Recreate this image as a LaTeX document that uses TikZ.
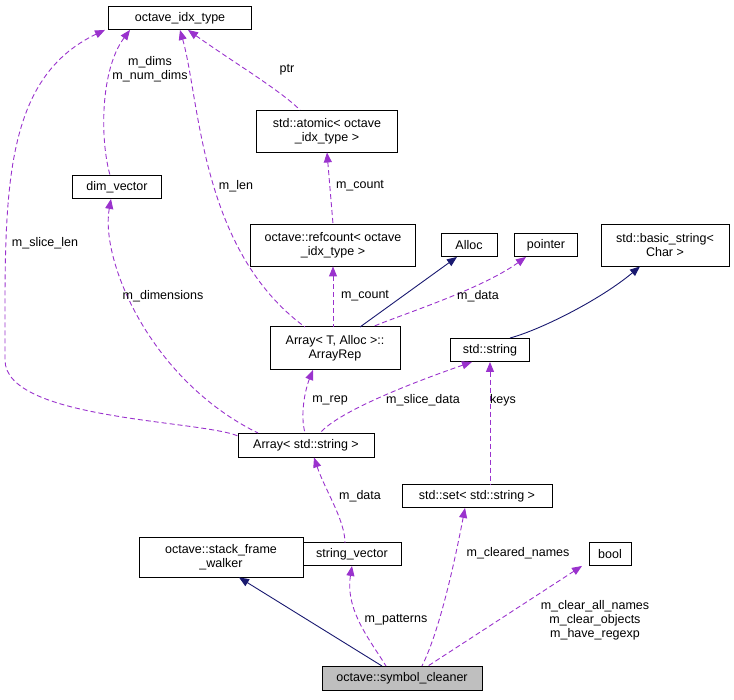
\documentclass[tikz,border=0pt]{standalone}
\usepackage{fontspec}
\setmainfont{Liberation Sans}
\usetikzlibrary{arrows.meta}
\definecolor{pur}{RGB}{154,50,205}
\definecolor{nav}{RGB}{25,25,112}
\begin{document}
\begin{tikzpicture}[x=1pt,y=-1pt,line width=0.9pt,
  box/.style={draw,fill=white,line width=0.9pt,inner sep=1pt,align=center,font=\fontsize{12.5}{14}\selectfont},
  lbl/.style={font=\fontsize{12.5}{14}\selectfont,align=center,inner sep=1pt},
  use/.style={draw=pur,dash pattern=on 5pt off 3pt,{Triangle[length=10pt,width=8pt,fill=pur]}-},
  inh/.style={draw=nav,{Triangle[length=10pt,width=8pt,fill=nav]}-}]
\useasboundingbox (0,0) rectangle (734,700);
\node[box,minimum width=143,minimum height=23] (idx) at (180,18) {octave\_idx\_type};
\node[box,minimum width=141,minimum height=42] (atom) at (327,131) {std::atomic< octave\\\_idx\_type >};
\node[box,minimum width=89,minimum height=23] (dim) at (117,187) {dim\_vector};
\node[box,minimum width=165,minimum height=42] (ref) at (333,245) {octave::refcount< octave\\\_idx\_type >};
\node[box,minimum width=56,minimum height=23] (alloc) at (469,245) {Alloc};
\node[box,minimum width=63,minimum height=23] (ptr) at (546,245) {pointer};
\node[box,minimum width=128,minimum height=42] (bs) at (665,245) {std::basic\_string<\\Char >};
\node[box,minimum width=130,minimum height=43] (rep) at (335,348) {Array< T, Alloc >::\\ArrayRep};
\node[box,minimum width=79,minimum height=23] (str) at (490,350) {std::string};
\node[box,minimum width=136,minimum height=24] (arr) at (306,445) {Array< std::string >};
\node[box,minimum width=150,minimum height=23] (set) at (477,496) {std::set< std::string >};
\node[box,minimum width=164,minimum height=40] (sfw) at (221,557) {octave::stack\_frame\\\_walker};
\node[box,minimum width=98,minimum height=23] (sv) at (352,554) {string\_vector};
\node[box,minimum width=42,minimum height=23] (bool) at (610,554) {bool};
\node[box,fill={rgb,255:red,191;green,191;blue,191},minimum width=160,minimum height=24] (sc) at (402,678) {octave::symbol\_cleaner};
\coordinate (sc1) at (382,666);
\coordinate (sc2) at (386,666);
\coordinate (sc3) at (422,666);
\coordinate (sc4) at (428,666);

\draw[inh] (sfw.south) ++(18,0) -- (sc1);
\draw[use] (sv.south) .. controls (345,610) and (370,640) .. (sc2);
\draw[use] (set.south) ++(-12,0) .. controls (455,560) and (440,630) .. (sc3);
\draw[use] (bool.south) ++(-28,0) -- (sc4);
\draw[use] (arr.south) ++(8,0) .. controls (325,490) and (345,520) .. (345,543);
\draw[use] (rep.south) ++(-22,0) .. controls (305,390) and (300,415) .. (305,433);
\draw[use] (str.south) ++(-18,0) .. controls (420,380) and (340,410) .. (320,433);
\draw[use] (str.south) -- (490,485);
\draw[inh] (bs.south) ++(-25,0) .. controls (600,300) and (540,330) .. (510,338);
\draw[inh] (alloc.south) ++(-12,0) -- (360,327);
\draw[use] (ptr.south) ++(-20,0) .. controls (480,290) and (400,315) .. (372,327);
\draw[use] (atom.south) -- (333,224);
\draw[use] (ref.south) -- (333,327);
\draw[use] (idx.south) ++(8,0) .. controls (230,60) and (280,90) .. (300,110);
\draw[use] (idx.south) .. controls (200,100) and (200,250) .. (305,327);
\draw[use] (idx.south) ++(-50,0) .. controls (100,70) and (100,140) .. (110,175);
\draw[use] (idx.south) ++(-75,0) .. controls (0,80) and (5,200) .. (5,360) .. controls (5,420) and (200,420) .. (238,436);
\draw[use] (dim.south) ++(-6,0) .. controls (100,260) and (150,380) .. (258,433);

\node[lbl] at (396,620) {m\_patterns};
\node[lbl] at (518,553) {m\_cleared\_names};
\node[lbl] at (595,620) {m\_clear\_all\_names\\m\_clear\_objects\\m\_have\_regexp};
\node[lbl] at (360,496) {m\_data};
\node[lbl] at (330,400) {m\_rep};
\node[lbl] at (423,400) {m\_slice\_data};
\node[lbl] at (503,400) {keys};
\node[lbl] at (478,296) {m\_data};
\node[lbl] at (365,296) {m\_count};
\node[lbl] at (360,186) {m\_count};
\node[lbl] at (287,70) {ptr};
\node[lbl] at (236,186) {m\_len};
\node[lbl] at (150,69) {m\_dims\\m\_num\_dims};
\node[lbl] at (45,243) {m\_slice\_len};
\node[lbl] at (163,296) {m\_dimensions};
\end{tikzpicture}
\end{document}
